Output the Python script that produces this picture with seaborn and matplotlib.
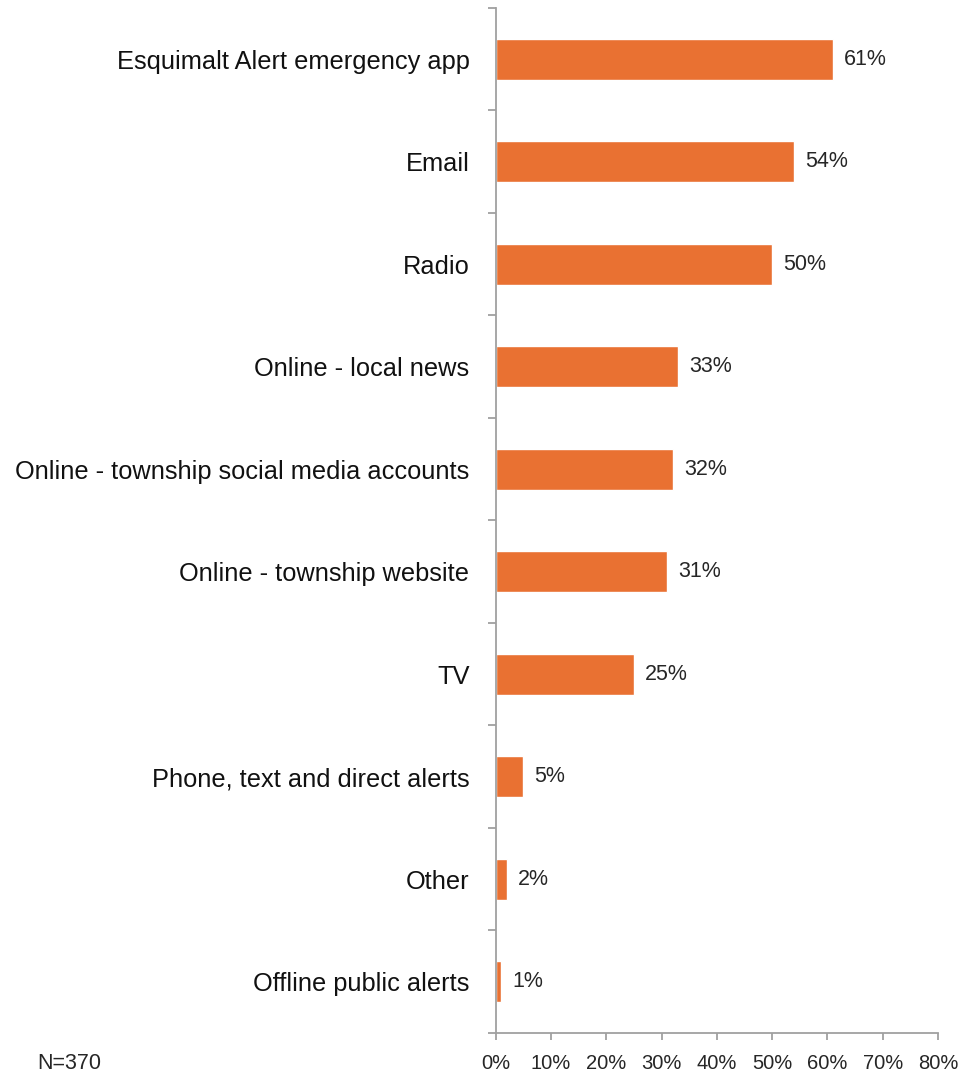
import matplotlib
matplotlib.use('Agg')
import matplotlib.pyplot as plt
import seaborn as sns
import pandas as pd
import numpy as np

# Data
channels = [
    'Esquimalt Alert emergency app',
    'Email',
    'Radio',
    'Online - local news',
    'Online - township social media accounts',
    'Online - township website',
    'TV',
    'Phone, text and direct alerts',
    'Other',
    'Offline public alerts',
]
percent = [61, 54, 50, 33, 32, 31, 25, 5, 2, 1]
x_ticks = [0, 10, 20, 30, 40, 50, 60, 70, 80]
note = 'N=370'

df = pd.DataFrame({'channel': channels, 'percent': percent})

sns.set_style('white')
plt.rcParams['font.family'] = ['Liberation Sans', 'DejaVu Sans']

bar_color = '#E97132'
axis_color = '#A0A0A0'

fig = plt.figure(figsize=(9.74, 10.76), dpi=100)
ax = fig.add_axes([0.509, 0.040, 0.454, 0.9526])

sns.barplot(data=df, y='channel', x='percent', orient='h', color=bar_color,
            width=0.4, saturation=1, ax=ax)

# value labels
for i, v in enumerate(percent):
    ax.annotate(f'{v}%', xy=(v, i), xytext=(8, 0), textcoords='offset points',
                va='center', ha='left', fontsize=15.5, color='#262626')

ax.set_xlim(0, 80)
ax.set_ylim(len(channels) - 0.5, -0.5)
ax.set_xticks(x_ticks)
ax.set_xticklabels([f'{t}%' for t in x_ticks], fontsize=14.5, color='#262626')
ax.set_xlabel('')
ax.set_ylabel('')

# category labels at centers, tick marks at boundaries
ax.set_yticks(range(len(channels)))
ax.set_yticklabels(channels, fontsize=18.3, color='#111111')
ax.tick_params(axis='y', which='major', left=False, length=0, pad=19)
ax.set_yticks(np.arange(-0.5, len(channels) + 0.5, 1), minor=True)
ax.tick_params(axis='y', which='minor', left=True, length=6, width=1.3,
               color=axis_color, direction='out')
ax.tick_params(axis='x', which='major', bottom=True, length=5, width=1.3,
               color=axis_color, direction='out', pad=10)

for side in ['top', 'right']:
    ax.spines[side].set_visible(False)
for side in ['left', 'bottom']:
    ax.spines[side].set_color(axis_color)
    ax.spines[side].set_linewidth(1.3)

fig.text(0.038, 0.0015, note, fontsize=15.5, color='#262626', ha='left', va='bottom')

fig.savefig('out.png', dpi=100, facecolor='white')
